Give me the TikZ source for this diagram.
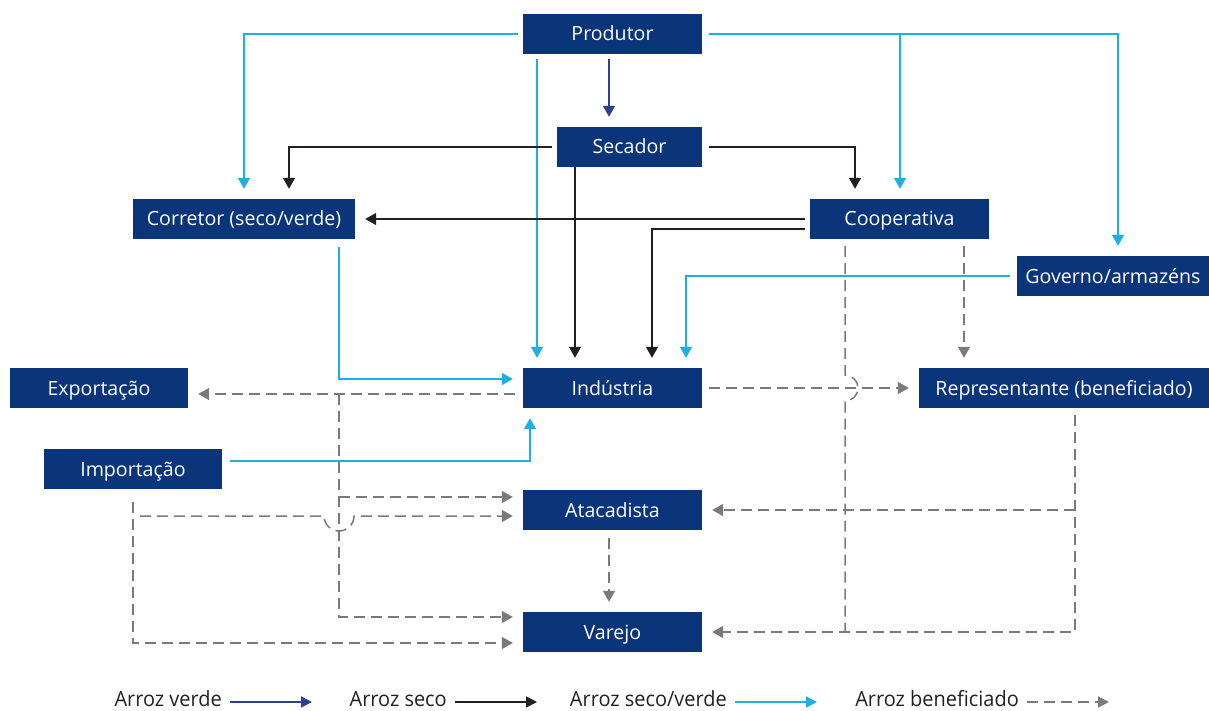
\documentclass[tikz,border=0pt]{standalone}
\usepackage{fontspec}
\setmainfont{Open Sans}
\newfontfamily\legfont[FakeStretch=0.95]{Open Sans}
\usetikzlibrary{arrows.meta,calc}
\definecolor{navy}{RGB}{11,53,122}
\definecolor{cyanc}{RGB}{27,177,228}
\definecolor{verdec}{RGB}{46,64,140}
\definecolor{blackc}{RGB}{35,31,32}
\definecolor{grayc}{RGB}{122,122,122}
\begin{document}
\begin{tikzpicture}[x=1pt,y=-1pt,
  box/.style={fill=navy, text=white, inner sep=0pt, minimum height=40pt, text height=14pt, text depth=0pt, font=\fontsize{19.6}{22}\selectfont},
  tip/.style={-{Triangle[length=11pt,width=12pt]}},
  conn/.style={line width=1.5pt, tip, shorten >=10pt},
  gr/.style={conn, draw=verdec, -{Triangle[length=11pt,width=12pt,fill=verdec]}},
  cy/.style={conn, draw=cyanc},
  bk/.style={conn, draw=blackc},
  gy/.style={conn, draw=grayc, dash pattern=on 11pt off 6pt},
  gyl/.style={line width=1.5pt, draw=grayc, dash pattern=on 11pt off 6pt},
  leg/.style={inner sep=0pt, font=\legfont\fontsize{21}{23}\selectfont, text=blackc},
  legtip/.style={line width=1.5pt, -{Triangle[length=11pt,width=11pt]}}
]
\useasboundingbox (0,0) rectangle (1209,711);

% nodes
\node[box, minimum width=179pt] (prod) at (612.5,34) {Produtor};
\node[box, minimum width=145pt] (sec) at (629.5,147) {Secador};
\node[box, minimum width=222pt] (corr) at (244,219) {Corretor (seco/verde)};
\node[box, minimum width=179pt] (coop) at (899.5,219) {Cooperativa};
\node[box, minimum width=192pt] (gov) at (1113,276) {Governo/armazéns};
\node[box, minimum width=178pt] (exp) at (99,388) {Exportação};
\node[box, minimum width=178pt] (imp) at (133,469) {Importação};
\node[box, minimum width=179pt] (ind) at (612.5,388) {Indústria};
\node[box, minimum width=290pt] (rep) at (1064,388) {Representante (beneficiado)};
\node[box, minimum width=179pt] (atac) at (612.5,510) {Atacadista};
\node[box, minimum width=179pt] (var) at (612.5,632) {Varejo};

% arroz verde
\draw[gr, shorten <=5pt] ([xshift=-3.5pt]prod.south) -- ([xshift=-20.5pt]sec.north);

% arroz seco/verde
\draw[cy, shorten <=5pt] (prod.west) -| (corr.north);
\draw[cy, shorten <=5pt] ([xshift=-75.5pt]prod.south) -- ([xshift=-75.5pt]ind.north);
\draw[cy, shorten <=7pt] (prod.east) -| ([xshift=5pt]gov.north);
\coordinate (cc) at ([xshift=0.5pt]coop.north);
\draw[cy] (cc |- prod.east) -- (cc);
\draw[cy, shorten <=7pt] (gov.west) -| ([xshift=73.5pt]ind.north);
\draw[cy, shorten <=8pt] ([xshift=95pt]corr.south) |- ([yshift=9pt]ind.west);
\draw[cy, shorten <=8pt] ([yshift=8pt]imp.east) -| ([xshift=-82.5pt]ind.south);

% arroz seco
\draw[bk, shorten <=5pt] (sec.west) -| ([xshift=45pt]corr.north);
\draw[bk, shorten <=7pt] (sec.east) -| ([xshift=-44.5pt]coop.north);
\draw[bk] ([xshift=-54.5pt]sec.south) -- ([xshift=-37.5pt]ind.north);
\draw[bk, shorten <=5pt] (coop.west) -- (corr.east);
\draw[bk, shorten <=5pt] ([yshift=-10pt]coop.west) -| ([xshift=39.5pt]ind.north);

% arroz beneficiado
\coordinate (ja) at (339,394);
\coordinate (jb) at (339,497);
\coordinate (ia) at (133,502);
\coordinate (ib) at (140,516);
\coordinate (ca) at ([xshift=-54.5pt]coop.south);
\coordinate (cb) at ([xshift=64.5pt]coop.south);
\coordinate (ra) at ([xshift=11pt]rep.south);

\draw[gy, shorten <=8pt] ([yshift=-6pt]ind.west) -- ([yshift=-6pt]exp.east);
\draw[gy, shorten <=7pt] (ind.east) -- (rep.west);
\draw[gy] (ja) |- ([yshift=15pt]var.west);
\draw[gy] (jb) -- (jb -| atac.west);
\draw[gy] (ia) |- ([yshift=-11pt]var.west);
\draw[gy] (ib) -- ($(ib -| ja)+(-15,0)$) arc[start angle=180, end angle=360, radius=15pt] -- ([yshift=-6pt]atac.west);
\draw[gyl, shorten <=7pt] (ca) -- ($(ca |- ind.east)+(0,-13)$) arc[start angle=90, end angle=-90, radius=13pt] -- (ca |- var.east);
\draw[gy, shorten <=7pt] (cb) -- (cb |- rep.north);
\draw[gy, shorten <=7pt] (ra) |- (var.east);
\draw[gy] (ra |- atac.east) -- (atac.east);
\draw[gy, shorten <=8pt] ([xshift=-3.5pt]atac.south) -- ([xshift=-3.5pt]var.north);

% legend
\node[leg, anchor=base east] (l1) at (222,706) {Arroz verde};
\node[leg, anchor=base east] (l2) at (447,706) {Arroz seco};
\node[leg, anchor=base east] (l3) at (727,706) {Arroz seco/verde};
\node[leg, anchor=base east] (l4) at (1019,706) {Arroz beneficiado};
\draw[legtip, draw=verdec, -{Triangle[length=11pt,width=11pt,fill=verdec]}] (l1.east |- 0,702) ++(8,0) -- ++(82,0);
\draw[legtip, draw=blackc] (l2.east |- 0,702) ++(8,0) -- ++(82,0);
\draw[legtip, draw=cyanc] (l3.east |- 0,702) ++(8,0) -- ++(82,0);
\draw[legtip, draw=grayc, dash pattern=on 11pt off 6pt] (l4.east |- 0,702) ++(8,0) -- ++(82,0);
\end{tikzpicture}
\end{document}
